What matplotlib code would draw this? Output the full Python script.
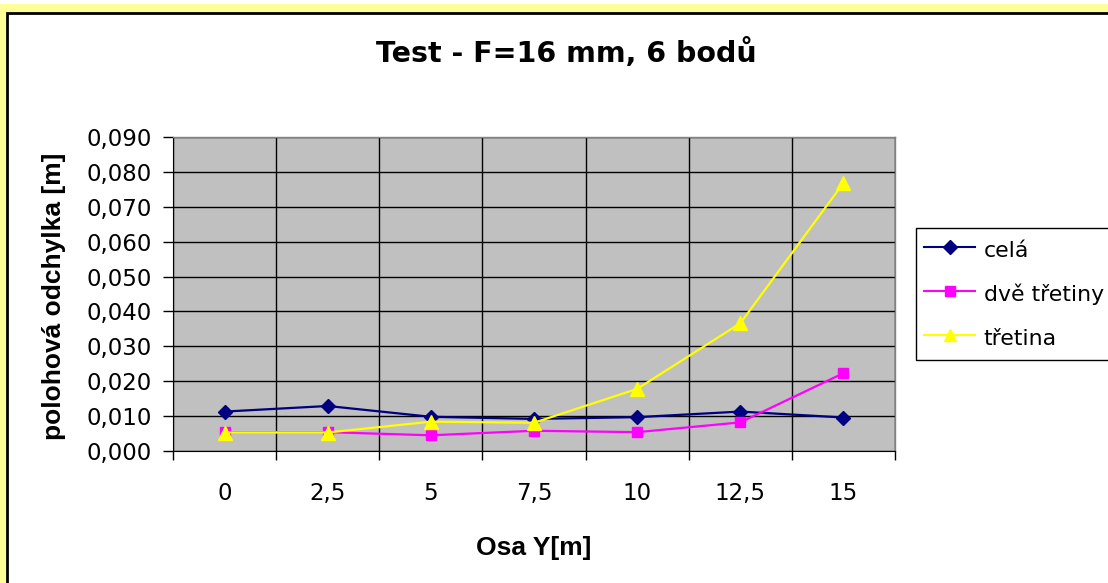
import matplotlib
matplotlib.use("Agg")
import matplotlib.pyplot as plt
from matplotlib.patches import Rectangle
from matplotlib.lines import Line2D

categories = ["0", "2,5", "5", "7,5", "10", "12,5", "15"]
cela = [0.0113, 0.0129, 0.0098, 0.0092, 0.0097, 0.0113, 0.0096]
dve_tretiny = [0.0054, 0.0054, 0.0045, 0.0058, 0.0054, 0.0082, 0.0223]
tretina = [0.0053, 0.0053, 0.0084, 0.0081, 0.0178, 0.0366, 0.0768]
series_names = ["celá", "dvě třetiny", "třetina"]
yticks = [0.0, 0.01, 0.02, 0.03, 0.04, 0.05, 0.06, 0.07, 0.08, 0.09]

WIDE = ['DejaVu Sans']
ARIAL = ['Liberation Sans', 'DejaVu Sans']
plt.rcParams['font.family'] = WIDE

W, H = 1108, 583
fig = plt.figure(figsize=(W / 100, H / 100), dpi=100)
fig.patch.set_facecolor("white")

# Yellow outer strip (top and left) and white chart area with black border
fig.patches.append(Rectangle((0, 0), 1, 1 - 4 / H, transform=fig.transFigure,
                             facecolor="#FFFF99", edgecolor="none", zorder=0))
fig.patches.append(Rectangle((6.5 / W, -0.1), 1.2, 1.1 - 13 / H, transform=fig.transFigure,
                             facecolor="white", edgecolor="black", linewidth=2, zorder=0.5))

ax = fig.add_axes([173 / W, 1 - 451 / H, (895 - 173) / W, (451 - 137) / H])
ax.set_zorder(2)
ax.set_facecolor("#C0C0C0")
x = list(range(len(categories)))

ax.plot(x, cela, color="#000080", marker="D", markersize=7.5, linewidth=1.6, zorder=3)
ax.plot(x, dve_tretiny, color="#FF00FF", marker="s", markersize=7.5, linewidth=1.6, zorder=3)
ax.plot(x, tretina, color="#FFFF00", marker="^", markersize=10, linewidth=1.6, zorder=4)

ax.set_xlim(-0.5, len(categories) - 0.5)
ax.set_ylim(0, 0.09)
ax.set_yticks(yticks)
ax.set_yticklabels([f"{v:.3f}".replace(".", ",") for v in yticks], fontsize=16.5)
ax.set_xticks([i - 0.5 for i in range(len(categories) + 1)])
ax.set_xticklabels([])
ax.set_xticks(x, minor=True)
ax.set_xticklabels(categories, minor=True, fontsize=16.5)
ax.tick_params(axis="x", which="minor", length=0, pad=22)
ax.tick_params(axis="x", which="major", direction="out", length=6.5, width=1, color="black")
ax.tick_params(axis="y", direction="out", length=7, width=1, color="black", pad=8)

ax.grid(True, which="major", color="black", linewidth=1, zorder=1)
ax.set_axisbelow(True)
for side in ["top", "right"]:
    ax.spines[side].set_color("#808080")
    ax.spines[side].set_linewidth(1)
ax.spines["left"].set_color("black")
ax.spines["bottom"].set_color("black")

fig.text(566 / W, 1 - 62 / H, "Test - F=16 mm, 6 bodů", ha="center", va="baseline",
         fontsize=20.5, fontweight="bold", zorder=3)
fig.text(534 / W, 1 - 555 / H, "Osa Y[m]", ha="center", va="baseline",
         fontsize=19, fontweight="bold", family=ARIAL, zorder=3)
fig.text(54 / W, 1 - 296 / H, "polohová odchylka [m]", ha="center", va="center",
         fontsize=19, fontweight="bold", rotation=90, family=ARIAL, zorder=3)

handles = [
    Line2D([], [], color="#000080", marker="D", markersize=7, linewidth=1.5),
    Line2D([], [], color="#FF00FF", marker="s", markersize=7, linewidth=1.5),
    Line2D([], [], color="#FFFF00", marker="^", markersize=9, linewidth=1.5),
]
leg = fig.legend(handles, series_names, loc="upper left",
                 bbox_to_anchor=(915.5 / W, 1 - 228 / H), fontsize=15.8,
                 frameon=True, fancybox=False, edgecolor="black", framealpha=1,
                 handlelength=2.3, handleheight=1.45, handletextpad=0.4,
                 labelspacing=0.82, borderpad=0.4, borderaxespad=0)
leg.get_frame().set_linewidth(1)

fig.savefig("out.png", dpi=100)
